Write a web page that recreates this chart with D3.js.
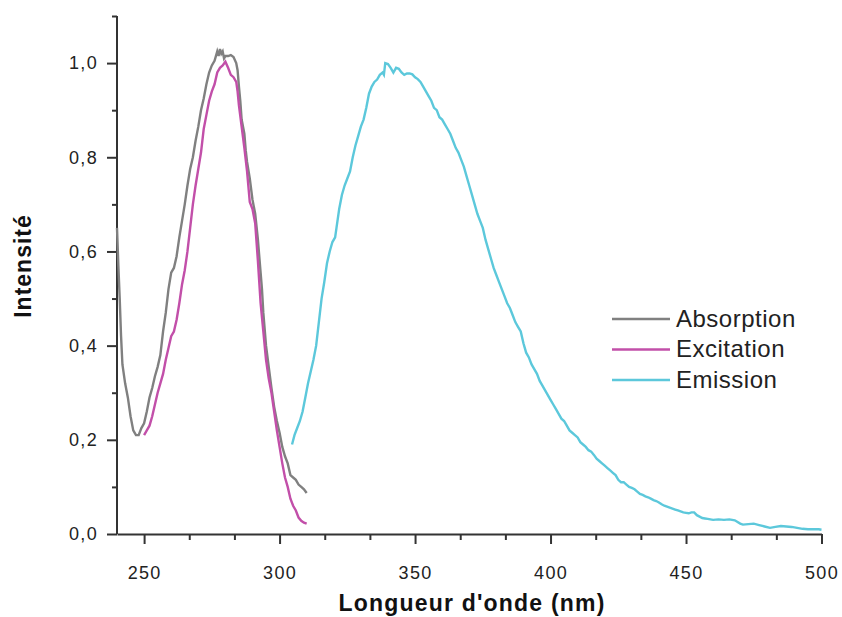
<!DOCTYPE html>
<html>
<head>
<meta charset="utf-8">
<script src="https://cdn.jsdelivr.net/npm/d3@7"></script>
<style>
  html, body { margin: 0; padding: 0; background: #fff; }
  svg { display: block; font-family: "Liberation Sans", Arial, sans-serif; }
</style>
</head>
<body>
<svg id="chart" width="842" height="617"></svg>
<script>
// ---- Data (wavelength nm, normalized intensity) ----
const seriesNames = ["Absorption", "Excitation", "Emission"];
const seriesColors = ["#808080", "#c24fa9", "#5cc8db"];

const absorption = [
  [240,0.65],[240.5,0.57],[241,0.50],[241.5,0.42],[242,0.36],[243,0.32],[244,0.29],[245,0.25],[246,0.22],
  [247,0.21],[248,0.21],[249,0.225],[250,0.235],[251,0.26],[252,0.29],[253,0.31],[254,0.335],[255,0.355],
  [256,0.38],[257,0.43],[258,0.47],[259,0.52],[260,0.555],[261,0.565],[262,0.59],[263,0.63],[264,0.665],
  [265,0.70],[266,0.74],[267,0.775],[268,0.80],[269,0.835],[270,0.865],[271,0.90],[272,0.925],[273,0.955],
  [274,0.98],[275,0.995],[276,1.005],[277,1.025],[277.5,1.015],[278,1.03],[278.5,1.02],[279,1.025],
  [279.5,1.01],[280,1.015],[281,1.015],[282,1.017],[283,1.013],[284,1.0],[284.5,0.985],[285,0.95],
  [285.5,0.92],[286,0.88],[287,0.85],[287.5,0.815],[288,0.79],[289,0.755],[290,0.71],[291,0.68],
  [292,0.625],[293,0.555],[293.5,0.52],[294,0.47],[295,0.40],[296,0.355],[297,0.31],[298,0.27],
  [299,0.24],[300,0.215],[301,0.185],[302,0.165],[303,0.15],[304,0.125],[305,0.12],[306,0.115],
  [307,0.105],[308,0.10],[309,0.095],[310,0.087]
];

const excitation = [
  [250,0.21],[251,0.22],[252,0.23],[253,0.25],[254,0.275],[255,0.30],[256,0.32],[257,0.34],[258,0.37],
  [259,0.395],[260,0.42],[261,0.43],[262,0.455],[263,0.49],[264,0.53],[265,0.56],[266,0.60],[267,0.65],
  [268,0.70],[269,0.74],[270,0.775],[271,0.81],[272,0.86],[273,0.89],[274,0.92],[275,0.94],[276,0.955],
  [277,0.98],[278,0.99],[279,0.995],[280,1.003],[281,0.99],[282,0.975],[283,0.97],[284,0.96],[284.5,0.94],
  [285,0.91],[286,0.865],[287,0.82],[288,0.77],[289,0.705],[290,0.69],[291,0.66],[292,0.58],[293,0.49],
  [294,0.43],[295,0.37],[296,0.33],[297,0.30],[298,0.26],[299,0.22],[300,0.185],[301,0.15],[302,0.12],
  [303,0.10],[304,0.075],[305,0.06],[306,0.05],[307,0.035],[308,0.028],[309,0.024],[310,0.022]
];

const emission = [
  [304.6,0.19],[305.5,0.21],[306.5,0.225],[307.5,0.24],[308.5,0.26],[309.5,0.29],[310.5,0.32],[311.5,0.345],
  [312.5,0.37],[313.5,0.40],[314.5,0.45],[315.5,0.50],[316.5,0.535],[317.5,0.575],[318.5,0.60],[319.5,0.62],
  [320.5,0.63],[321,0.65],[322,0.69],[323,0.72],[324,0.74],[325,0.755],[326,0.77],[327,0.80],[328,0.825],
  [329,0.845],[330,0.865],[331,0.88],[332,0.905],[333,0.935],[334,0.95],[335,0.96],[336,0.965],[337,0.975],
  [338,0.98],[338.5,0.975],[339,1.0],[340,0.998],[341,0.99],[342,0.98],[343,0.99],[344,0.988],[345,0.98],
  [346,0.975],[347,0.978],[348,0.978],[349,0.976],[350,0.97],[351,0.966],[352,0.96],[353,0.95],[354,0.94],
  [355,0.93],[356,0.92],[357,0.905],[358,0.9],[359,0.885],[360,0.88],[361,0.87],[362,0.86],[363,0.85],
  [364,0.835],[365,0.82],[366,0.81],[367,0.795],[368,0.78],[369,0.76],[370,0.74],[371,0.72],[372,0.70],
  [373,0.68],[374,0.665],[375,0.65],[376,0.625],[377,0.605],[378,0.585],[379,0.565],[380,0.55],[381,0.535],
  [382,0.52],[383,0.505],[384,0.49],[385,0.48],[386,0.465],[387,0.45],[388,0.44],[389,0.43],[390,0.405],
  [391,0.385],[392,0.375],[393,0.36],[394,0.35],[395,0.34],[396,0.325],[397,0.315],[398,0.305],[399,0.295],
  [400,0.285],[401,0.275],[402,0.265],[403,0.255],[404,0.245],[405,0.24],[406,0.23],[407,0.22],[408,0.215],
  [409,0.21],[410,0.205],[411,0.195],[412,0.19],[413,0.185],[414,0.178],[415,0.175],[416,0.168],[417,0.16],
  [418,0.155],[419,0.15],[420,0.145],[421,0.14],[422,0.135],[423,0.13],[424,0.125],[425,0.115],[426,0.11],
  [427,0.11],[428,0.105],[429,0.1],[430,0.098],[431,0.095],[432,0.09],[433,0.085],[434,0.083],[435,0.08],
  [436,0.078],[437,0.075],[438,0.072],[439,0.07],[440,0.067],[441,0.063],[442,0.06],[443,0.058],[444,0.056],
  [445,0.054],[446,0.052],[447,0.05],[448,0.048],[449,0.046],[450,0.045],[451,0.044],[452,0.046],[453,0.046],
  [454,0.04],[455,0.037],[456,0.034],[457,0.033],[458,0.032],[459,0.031],[460,0.03],[462,0.031],[464,0.03],
  [466,0.031],[468,0.029],[470,0.022],[471,0.02],[473,0.021],[475,0.022],[477,0.019],[479,0.016],[481,0.013],
  [483,0.015],[485,0.017],[487,0.016],[489,0.015],[491,0.013],[493,0.011],[495,0.01],[497,0.01],[499,0.01],
  [500,0.009]
];

const xMajorTicks = [250, 300, 350, 400, 450, 500];
const yMajorTicks = [0, 0.2, 0.4, 0.6, 0.8, 1.0];
const xTitle = "Longueur d'onde (nm)";
const yTitle = "Intensité";

// ---- Layout ----
const svg = d3.select("#chart");
const x = d3.scaleLinear().domain([240, 500]).range([117, 821.5]);
const y = d3.scaleLinear().domain([0, 1.1]).range([534, 16]);

const axisColor = "#333";
const labelColor = "#222";

// minor ticks
const xMinorTicks = [];
for (let i = 0; i < xMajorTicks.length - 1; i++) {
  const a = xMajorTicks[i], b = xMajorTicks[i + 1];
  xMinorTicks.push(a + (b - a) / 3, a + 2 * (b - a) / 3);
}
const yMinorTicks = yMajorTicks.map(v => +(v + 0.1).toFixed(1));

const fmt = v => d3.format(".1f")(v).replace(".", ",");

// X axis
const gx = svg.append("g").attr("transform", `translate(0,${y(0)})`);
gx.call(d3.axisBottom(x).tickValues(xMinorTicks).tickSize(6).tickFormat(""));
gx.call(g => g.select(".domain").remove());
const gx2 = svg.append("g").attr("transform", `translate(0,${y(0)})`)
  .call(d3.axisBottom(x).tickValues(xMajorTicks).tickSize(10).tickSizeOuter(0).tickPadding(22).tickFormat(d3.format("d")));
[gx, gx2].forEach(g => {
  g.selectAll("line").attr("stroke", axisColor).attr("stroke-width", 2);
  g.selectAll(".domain").attr("stroke", axisColor).attr("stroke-width", 2);
  g.selectAll("text").attr("fill", labelColor).attr("font-size", 18).attr("letter-spacing", 1.3)
    .attr("font-family", "'Liberation Sans', Arial, sans-serif");
});

// Y axis
const gy = svg.append("g").attr("transform", `translate(${x(240)},0)`);
gy.call(d3.axisLeft(y).tickValues(yMinorTicks).tickSize(5).tickFormat(""));
gy.call(g => g.select(".domain").remove());
const gy2 = svg.append("g").attr("transform", `translate(${x(240)},0)`)
  .call(d3.axisLeft(y).tickValues(yMajorTicks).tickSize(10).tickSizeOuter(0).tickPadding(9).tickFormat(fmt));
[gy, gy2].forEach(g => {
  g.selectAll("line").attr("stroke", axisColor).attr("stroke-width", 2);
  g.selectAll(".domain").attr("stroke", axisColor).attr("stroke-width", 2);
  g.selectAll("text").attr("fill", labelColor).attr("font-size", 18).attr("letter-spacing", 1.3)
    .attr("font-family", "'Liberation Sans', Arial, sans-serif");
});
// extend y domain line to top
gy2.select(".domain").attr("d", `M0,${y(0)}V${y(1.1)}`);

// Lines
const line = d3.line().x(d => x(d[0])).y(d => y(d[1]));
const allSeries = [absorption, excitation, emission];
allSeries.forEach((data, i) => {
  svg.append("path")
    .datum(data)
    .attr("d", line)
    .attr("fill", "none")
    .attr("stroke", seriesColors[i])
    .attr("stroke-width", 2.4)
    .attr("stroke-linejoin", "miter");
});

// Legend
const legend = svg.append("g").attr("transform", "translate(612,319)");
seriesNames.forEach((name, i) => {
  const row = legend.append("g").attr("transform", `translate(0,${i * 30.5})`);
  row.append("line").attr("x1", 0).attr("x2", 58).attr("y1", 0).attr("y2", 0)
    .attr("stroke", seriesColors[i]).attr("stroke-width", 2.5);
  row.append("text").attr("x", 64).attr("y", 7.5)
    .attr("font-size", 24).attr("letter-spacing", 0.5).attr("fill", labelColor)
    .text(name);
});

// Axis titles
svg.append("text")
  .attr("x", 472).attr("y", 611)
  .attr("text-anchor", "middle")
  .attr("font-size", 23).attr("font-weight", "bold").attr("letter-spacing", 1.2)
  .attr("fill", "#111")
  .text(xTitle);

svg.append("text")
  .attr("transform", "translate(31,266) rotate(-90)")
  .attr("text-anchor", "middle")
  .attr("font-size", 23).attr("font-weight", "bold").attr("letter-spacing", 1)
  .attr("fill", "#111")
  .text(yTitle);
</script>
</body>
</html>
